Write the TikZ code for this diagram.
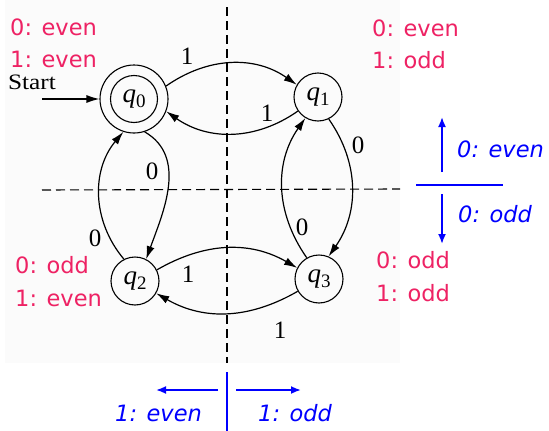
\documentclass[tikz,border=0pt]{standalone}
\usepackage{fontspec}
\setmainfont{Liberation Serif}
\newfontfamily\dejavu{DejaVu Sans}
\usetikzlibrary{arrows.meta}
\definecolor{lblred}{RGB}{238,34,100}
\definecolor{scangray}{RGB}{251,251,251}
\tikzset{
  st/.style={circle,draw,line width=1.1pt,minimum size=48pt,inner sep=0pt},
  edge/.style={line width=1.2pt,-{Latex[length=13pt,width=8pt]}},
  dline/.style={line width=1.1pt,dash pattern=on 9pt off 5pt},
  elab/.style={inner sep=0pt,font=\fontsize{25}{25}\selectfont},
  redlab/.style={inner sep=0pt,anchor=west,text=lblred,font=\dejavu\fontsize{22.5}{22.5}\selectfont},
  bluelab/.style={inner sep=0pt,anchor=west,text=blue,font=\dejavu\itshape\fontsize{22.5}{22.5}\selectfont},
  bline/.style={blue,line width=1.8pt},
  barr/.style={blue,line width=1.8pt,-{Latex[length=10pt,width=8pt]}}
}
\newcommand{\qlab}[1]{\fontsize{27}{27}\selectfont\textit{q}\raisebox{-5pt}{\fontsize{19}{19}\selectfont #1}}
\begin{document}
\begin{tikzpicture}[x=1pt,y=1pt]
\useasboundingbox (0,0) rectangle (549,-431);
\fill[scangray] (5,0) rectangle (400,-363);
% dashed axes
\coordinate (vt) at (227,-7);
\coordinate (vb) at (227,-363);
\coordinate (hl) at (42,-190);
\coordinate (hr) at (400,-189);
\draw[dline] (vt) -- (vb);
\draw[dline] (hl) -- (hr);
% states
\node[st,minimum size=68pt] (q0) at (134,-99) {};
\draw[line width=1.1pt] (q0.center) circle (23.5pt);
\node at (q0.center) {\qlab{0}};
\node[st] (q1) at (318,-97) {\qlab{1}};
\node[st] (q2) at (135,-281) {\qlab{2}};
\node[st] (q3) at (319,-279) {\qlab{3}};
% start
\node[elab,font=\fontsize{22}{22}\selectfont] (start) at (32,-82) {\scalebox{1.15}[1]{Start}};
\coordinate (s0) at (42,-99);
\draw[edge] (s0) -- (q0.180);
% transitions
\draw[edge] (q0.22) to[out=35,in=145] (q1.150);
\draw[edge] (q1.215) to[out=215,in=-35] (q0.-21);
\draw[edge] (q0.-72) to[out=-30,in=70] (q2.63);
\draw[edge] (q2.117) to[out=130,in=-130] (q0.-108);
\draw[edge] (q2.27) to[out=30,in=150] (q3.153);
\draw[edge] (q3.210) to[out=210,in=-30] (q2.-30);
\draw[edge] (q1.-64) to[out=-55,in=55] (q3.67);
\draw[edge] (q3.120) to[out=125,in=-125] (q1.-121);
% edge labels
\node[elab] (l01) at (187,-56) {1};
\node[elab] (l10) at (267,-113) {1};
\node[elab] (l02) at (152,-171) {0};
\node[elab] (l20) at (95,-238) {0};
\node[elab] (l13) at (358,-145) {0};
\node[elab] (l31) at (302,-227) {0};
\node[elab] (l23) at (188,-274) {1};
\node[elab] (l32) at (280,-330) {1};
% red labels
\node[redlab] (r0a) at (10,-27) {0: even};
\node[redlab] (r0b) at (10,-59) {1: even};
\node[redlab] (r1a) at (372,-28) {0: even};
\node[redlab] (r1b) at (372,-60) {1: odd};
\node[redlab] (r2a) at (15,-265) {0: odd};
\node[redlab] (r2b) at (15,-298) {1: even};
\node[redlab] (r3a) at (376,-260) {0: odd};
\node[redlab] (r3b) at (376,-293) {1: odd};
% blue legend right
\coordinate (bh1) at (416,-185);
\coordinate (bh2) at (503,-185);
\draw[bline] (bh1) -- (bh2);
\coordinate (bu1) at (442,-172);
\coordinate (bu2) at (442,-117);
\draw[barr] (bu1) -- (bu2);
\coordinate (bd1) at (442,-194);
\coordinate (bd2) at (442,-244);
\draw[barr] (bd1) -- (bd2);
\node[bluelab] (b0e) at (457,-149) {0: even};
\node[bluelab] (b0o) at (458,-214) {0: odd};
% blue legend bottom
\coordinate (bv1) at (227,-372);
\coordinate (bv2) at (227,-431);
\draw[bline] (bv1) -- (bv2);
\coordinate (bl1) at (218,-390);
\coordinate (bl2) at (156,-390);
\draw[barr] (bl1) -- (bl2);
\coordinate (br1) at (236,-390);
\coordinate (br2) at (301,-390);
\draw[barr] (br1) -- (br2);
\node[bluelab] (b1e) at (115,-413) {1: even};
\node[bluelab] (b1o) at (258,-413) {1: odd};
\end{tikzpicture}
\end{document}
